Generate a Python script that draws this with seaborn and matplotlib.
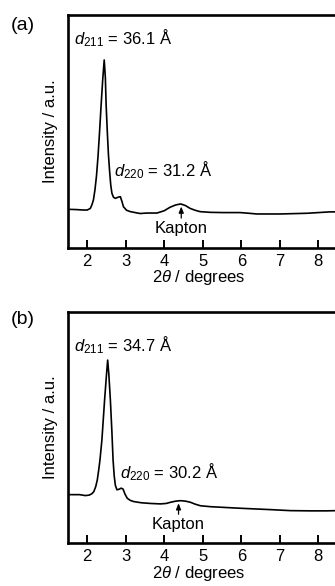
import matplotlib
matplotlib.use("Agg")
import matplotlib.pyplot as plt
import seaborn as sns

# panel (a) pattern
two_theta_a = [1.50, 1.70, 1.90, 2.00, 2.08, 2.12, 2.16, 2.20, 2.24, 2.28, 2.32, 2.36,
               2.40, 2.44, 2.47, 2.49, 2.52, 2.55, 2.58, 2.61, 2.64, 2.68, 2.73, 2.80,
               2.86, 2.90, 2.94, 3.02, 3.12, 3.37, 3.55, 3.81, 4.00, 4.15, 4.30, 4.43,
               4.55, 4.67, 4.80, 4.93, 5.20, 5.54, 5.97, 6.20, 6.40, 7.00, 7.70, 8.30, 8.50]
intensity_a = [0.166, 0.165, 0.163, 0.163, 0.170, 0.185, 0.206, 0.250, 0.310, 0.395, 0.500, 0.614,
               0.720, 0.807, 0.730, 0.614, 0.500, 0.400, 0.330, 0.270, 0.235, 0.218, 0.213, 0.218,
               0.220, 0.200, 0.177, 0.162, 0.156, 0.148, 0.150, 0.150, 0.160, 0.175, 0.185, 0.189,
               0.182, 0.170, 0.162, 0.156, 0.153, 0.152, 0.152, 0.149, 0.146, 0.146, 0.149, 0.155, 0.155]

# panel (b) pattern
two_theta_b = [1.50, 1.80, 1.95, 2.05, 2.12, 2.17, 2.22, 2.26, 2.30, 2.33, 2.38, 2.45,
               2.50, 2.53, 2.56, 2.60, 2.64, 2.67, 2.70, 2.73, 2.77, 2.82, 2.88, 2.93,
               2.98, 3.04, 3.12, 3.21, 3.40, 3.64, 3.90, 4.05, 4.16, 4.30, 4.42, 4.55,
               4.68, 4.80, 4.94, 5.20, 5.54, 6.00, 6.40, 6.80, 7.27, 7.80, 8.20, 8.50]
intensity_b = [0.210, 0.210, 0.206, 0.208, 0.214, 0.223, 0.245, 0.273, 0.320, 0.360, 0.446, 0.619,
               0.730, 0.791, 0.730, 0.619, 0.480, 0.360, 0.290, 0.250, 0.231, 0.233, 0.238, 0.234,
               0.212, 0.194, 0.185, 0.180, 0.175, 0.172, 0.170, 0.172, 0.177, 0.182, 0.184, 0.182,
               0.177, 0.169, 0.162, 0.158, 0.155, 0.151, 0.148, 0.145, 0.141, 0.140, 0.140, 0.141]

panel_labels = ["(a)", "(b)"]
d211_labels = [r"$d_{211}$ = 36.1 Å", r"$d_{211}$ = 34.7 Å"]
d220_labels = [r"$d_{220}$ = 31.2 Å", r"$d_{220}$ = 30.2 Å"]
kapton_pos = [4.44, 4.37]
xticks = [2, 3, 4, 5, 6, 7, 8]

sns.set_theme(style="ticks", rc={"text.color": "black", "axes.labelcolor": "black",
                                 "axes.edgecolor": "black", "xtick.color": "black"})
plt.rcParams["font.family"] = ["Liberation Sans", "DejaVu Sans"]
plt.rcParams["mathtext.fontset"] = "custom"
plt.rcParams["mathtext.rm"] = "Liberation Sans"
plt.rcParams["mathtext.it"] = "Liberation Sans:italic"

fig = plt.figure(figsize=(3.35, 5.86), dpi=100)

# axes run slightly past the right edge, like the cropped original
boxes = [[0.203, 0.5768, 0.8048, 0.3976], [0.203, 0.0729, 0.8048, 0.3952]]
curves = [(two_theta_a, intensity_a), (two_theta_b, intensity_b)]
d211_y = [0.899, 0.856]
d220_xy = [(2.70, 0.335), (2.84, 0.309)]
kap_text_y = [0.082, 0.079]
kap_tip_y = [0.178, 0.173]
label_y = [1 - 26 / 586, 1 - 320 / 586]
fs = 12

for i in range(2):
    ax = fig.add_axes(boxes[i])
    x, y = curves[i]
    sns.lineplot(x=x, y=y, ax=ax, color="black", linewidth=1.2, sort=False)
    ax.set_xlim(1.5, 8.5)
    ax.set_ylim(0, 1)
    ax.set_xticks(xticks)
    ax.set_yticks([])
    for s in ax.spines.values():
        s.set_linewidth(1.9)
        s.set_color("black")
        s.set_visible(True)
    ax.tick_params(axis="x", direction="in", length=5.8, width=1.4, pad=4,
                   labelsize=fs, colors="black")
    ax.set_xlabel(r"2$\theta$ / degrees", fontsize=fs, color="black")
    ax.set_ylabel("Intensity / a.u.", fontsize=fs, color="black")
    ax.xaxis.set_label_coords(0.485, -0.088)
    ax.yaxis.set_label_coords(-0.037, 0.5)

    ax.text(1.66, d211_y[i], d211_labels[i], fontsize=fs, va="center", ha="left", color="black")
    ax.text(d220_xy[i][0], d220_xy[i][1], d220_labels[i], fontsize=fs, va="center", ha="left",
            color="black")
    ax.annotate("Kapton", xy=(kapton_pos[i], kap_tip_y[i]),
                xytext=(kapton_pos[i], kap_text_y[i]), fontsize=fs, color="black",
                ha="center", va="center",
                arrowprops=dict(arrowstyle="-|>,head_length=0.3,head_width=0.12",
                                color="black", lw=0.9, shrinkA=0, shrinkB=0))

    fig.text(23 / 335, label_y[i], panel_labels[i], fontsize=14, ha="center", va="center",
             color="black")

fig.savefig("out.png", dpi=100)
